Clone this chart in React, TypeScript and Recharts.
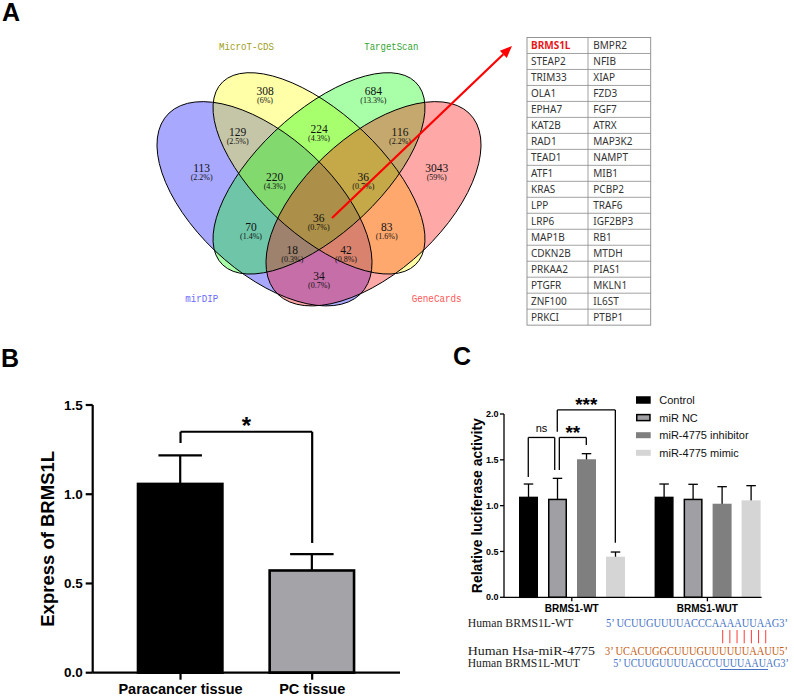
import React from "react"
import { BarChart, Bar, XAxis, YAxis, ReferenceLine, Legend } from "recharts"

// ---- A: four target-prediction sources and their overlaps
const vennSets = ["mirDIP", "MicroT-CDS", "TargetScan", "GeneCards"]
const vennSetColors = ["#6a6aff", "#a0a020", "#33a533", "#ff5757"]
const vennCounts = [308, 684, 129, 224, 116, 113, 220, 36, 3043, 70, 36, 83, 18, 42, 34]
const vennShares = ["6%", "13.3%", "2.5%", "4.3%", "2.2%", "2.2%", "4.3%", "0.7%", "59%", "1.4%", "0.7%", "1.6%", "0.3%", "0.8%", "0.7%"]

// the 36 genes shared by all four sources
const sharedGenesLeft = ["BRMS1L", "STEAP2", "TRIM33", "OLA1", "EPHA7", "KAT2B", "RAD1", "TEAD1", "ATF1", "KRAS", "LPP", "LRP6", "MAP1B", "CDKN2B", "PRKAA2", "PTGFR", "ZNF100", "PRKCI"]
const sharedGenesRight = ["BMPR2", "NFIB", "XIAP", "FZD3", "FGF7", "ATRX", "MAP3K2", "NAMPT", "MIB1", "PCBP2", "TRAF6", "IGF2BP3", "RB1", "MTDH", "PIAS1", "MKLN1", "IL6ST", "PTBP1"]

// ---- B: BRMS1L expression
const tissues = ["Paracancer tissue", "PC tissue"]
const tissueMean = [1.065, 0.58]
const tissueSd = [0.153, 0.084]
const tissueFill = ["#000000", "#a4a4a8"]

// ---- C: dual-luciferase reporter
const reporters = ["BRMS1-WT", "BRMS1-WUT"]
const treatments = ["Control", "miR NC", "miR-4775 inhibitor", "miR-4775 mimic"]
const controlMean = [1.098, 1.098]
const controlSd = [0.138, 0.138]
const ncMean = [1.076, 1.076]
const ncSd = [0.222, 0.157]
const inhibitorMean = [1.506, 1.021]
const inhibitorSd = [0.061, 0.186]
const mimicMean = [0.443, 1.058]
const mimicSd = [0.051, 0.16]
const treatmentFill = ["#000000", "#a0a0a4", "#7f7f7f", "#d5d5d5"]
const treatmentStroke = ["#000", "#000", "none", "none"]

// binding site sequences
const seqNames = ["Human BRMS1L-WT", "Human Hsa-miR-4775", "Human BRMS1L-MUT"]
const seqs = ["5’ UCUUGUUUUACCCAAAAUUAAG3’", "3’ UCACUGGCUUUGUUUUUUAAUU5’", "5’ UCUUGUUUUACCCUUUUAAUAG3’"]
const seqColors = ["#4472c4", "#c55a11", "#4472c4"]
const seedPairs = 7

const exprData = tissues.map((name, i) => ({ name, mean: tissueMean[i], sd: tissueSd[i] }))
const lucData = reporters.map((name, i) => ({
  name,
  control: controlMean[i], controlSd: controlSd[i],
  nc: ncMean[i], ncSd: ncSd[i],
  inhibitor: inhibitorMean[i], inhibitorSd: inhibitorSd[i],
  mimic: mimicMean[i], mimicSd: mimicSd[i],
}))
const lucKeys = ["control", "nc", "inhibitor", "mimic"]

// ellipse geometry, drawn in a frame squashed to 0.95 vertically
const vennShapes = [
  { cx: 264.5, cy: 214.5, rx: 135, ry: 70, rot: 45, fill: "#0000ff" },
  { cx: 319, cy: 182.5, rx: 136.2, ry: 62.6, rot: 45, fill: "#ffff00" },
  { cx: 319, cy: 182.5, rx: 136.2, ry: 62.6, rot: -45, fill: "#00ff00" },
  { cx: 373.5, cy: 214.5, rx: 135, ry: 70, rot: -45, fill: "#ff0000" },
]
const vennSetPos = [
  { x: 201.7, y: 302, w: 33 },
  { x: 246.5, y: 49.5, w: 55 },
  { x: 391.3, y: 49.5, w: 54 },
  { x: 436.7, y: 302, w: 50 },
]
const vennCountPos = [
  [265, 91], [373.3, 91], [237.7, 132], [319, 129], [400, 132], [201.7, 168], [274.7, 177.3],
  [363.3, 177.3], [436.7, 168], [251, 227], [318.7, 218], [386.7, 227], [292.3, 250], [346, 250], [319, 276],
]

// upper-only error bar drawn behind the bar, length taken from the bar's own scale
const barWithSd = (key: string, sdKey: string, fills: string[] | string, stroke: string, sw: number, whisker: number) =>
  (p: any) => {
    const { x, y, width, height, payload, index } = p
    const v = payload[key]
    const top = y - (payload[sdKey] * height) / v
    const cx = x + width / 2
    const fill = Array.isArray(fills) ? fills[index] : fills
    const inset = stroke === "none" ? 0 : sw / 2
    return (
      <g>
        <line x1={cx} x2={cx} y1={y + 3} y2={top} stroke="#000" strokeWidth={whisker} />
        <line x1={cx - width / 4} x2={cx + width / 4} y1={top} y2={top} stroke="#000" strokeWidth={whisker} />
        <rect x={x + inset} y={y + inset} width={width - 2 * inset} height={Math.max(0, height - inset)} fill={fill} stroke={stroke} strokeWidth={sw} />
      </g>
    )
  }

const axisTitle = (text: string, cx: number, size: number) => (props: any) => {
  const vb = props.viewBox
  const tx = vb.x + cx
  const ty = vb.y + vb.height / 2
  return (
    <text x={tx} y={ty} transform={`rotate(-90 ${tx} ${ty})`} textAnchor="middle" dominantBaseline="central"
      fontSize={size} fontWeight={700} fill="#000">{text}</text>
  )
}

const markLabel = (mark: string, size: number, dy: number, weight: number) => (props: any) => {
  const vb = props.viewBox
  return (
    <text x={vb.x + vb.width / 2} y={vb.y + dy} textAnchor="middle" fontSize={size} fontWeight={weight} fill="#000">{mark}</text>
  )
}

function ExpressionChart() {
  const line = { stroke: "#000", strokeWidth: 2.2, ifOverflow: "visible" as const }
  return (
    <BarChart width={420} height={317} data={exprData} margin={{ top: 25, right: 20, bottom: 0, left: 0 }}>
      <XAxis dataKey="name" height={24.3} padding={{ left: 22, right: 22 }} interval={0}
        axisLine={{ stroke: "#000", strokeWidth: 2.2 }} tickLine={{ stroke: "#000", strokeWidth: 2.2 }}
        tickSize={7} tickMargin={4} tick={{ fill: "#000", fontSize: 14.5, fontWeight: 700 }} />
      <YAxis width={92.7} domain={[0, 1.5]} ticks={[0, 0.5, 1, 1.5]} tickFormatter={(v: number) => v.toFixed(1)}
        axisLine={{ stroke: "#000", strokeWidth: 2.2 }} tickLine={{ stroke: "#000", strokeWidth: 2.2 }}
        tickSize={7} tickMargin={3} tick={{ fill: "#000", fontSize: 13.5, fontWeight: 700 }}
        label={{ content: axisTitle("Express of BRMS1L", 48, 18.5) }} />
      <Bar dataKey="mean" barSize={87} isAnimationActive={false}
        shape={barWithSd("mean", "sd", tissueFill, "#000", 2.6, 2.2)} />
      <ReferenceLine segment={[{ x: tissues[0], y: 1.287 }, { x: tissues[0], y: 1.35 }]} {...line} />
      <ReferenceLine segment={[{ x: tissues[0], y: 1.35 }, { x: tissues[1], y: 1.35 }]} {...line}
        label={{ content: markLabel("*", 24, 2, 700) }} />
      <ReferenceLine segment={[{ x: tissues[1], y: 1.35 }, { x: tissues[1], y: 0.727 }]} {...line} />
    </BarChart>
  )
}

// significance brackets; x runs 0..1 across the plot on the hidden "pos" axis
const lucBrackets = [
  { x1: 0.0895, x2: 0.187, y: 1.744, y1: 1.313, y2: 1.389, mark: "ns", size: 11, dy: -5.8, weight: 400 },
  { x1: 0.204, x2: 0.3035, y: 1.744, y1: 1.389, y2: 1.662, mark: "**", size: 19, dy: 1.7, weight: 700 },
  { x1: 0.1965, x2: 0.4105, y: 2.044, y1: 1.807, y2: 0.596, mark: "***", size: 19, dy: 0.9, weight: 700 },
]

const lucLegend = () => (
  <svg width={160} height={72}>
    {treatments.map((t, i) => {
      const cy = 9 + i * 17.6
      const s = treatmentStroke[i] !== "none"
      return (
        <g key={t}>
          <rect x={s ? 6.75 : 6} y={cy - 3} width={s ? 13.2 : 14.7} height={6} fill={treatmentFill[i]}
            stroke={treatmentStroke[i]} strokeWidth={1.5} />
          <text x={29.3} y={cy + 4} fontSize={11} fill="#111">{t}</text>
        </g>
      )
    })}
  </svg>
)

function LuciferaseChart() {
  const line = { stroke: "#000", strokeWidth: 1.3, ifOverflow: "visible" as const, xAxisId: "pos" }
  return (
    <BarChart width={394} height={260} data={lucData} margin={{ top: 54, right: 18.8, bottom: 0, left: 0 }} barGap={10}>
      <XAxis dataKey="name" height={22.7} interval={0} axisLine={false}
        tickLine={{ stroke: "#000", strokeWidth: 1.3 }} tickSize={4} tickMargin={4}
        tick={{ fill: "#000", fontSize: 10, fontWeight: 700 }} />
      <XAxis xAxisId="pos" type="number" domain={[0, 1]} allowDataOverflow hide />
      <YAxis width={104} domain={[0, 2]} ticks={[0, 0.5, 1, 1.5, 2]} tickFormatter={(v: number) => v.toFixed(1)}
        axisLine={{ stroke: "#000", strokeWidth: 1.3 }} tickLine={{ stroke: "#000", strokeWidth: 1.3 }}
        tickSize={4} tickMargin={1.5} tick={{ fill: "#000", fontSize: 9, fontWeight: 700 }}
        label={{ content: axisTitle("Relative luciferase activity", 77, 14) }} />
      {lucKeys.map((k, i) => (
        <Bar key={k} dataKey={k} name={treatments[i]} barSize={19} fill={treatmentFill[i]} isAnimationActive={false}
          shape={barWithSd(k, k + "Sd", treatmentFill[i], treatmentStroke[i], 1.5, 1.3)} />
      ))}
      <ReferenceLine segment={[{ x: 0, y: 0 }, { x: 0.95, y: 0 }]} {...line} />
      {lucBrackets.map((b) => (
        <React.Fragment key={b.mark}>
          <ReferenceLine segment={[{ x: b.x1, y: b.y1 }, { x: b.x1, y: b.y }]} {...line} />
          <ReferenceLine segment={[{ x: b.x1, y: b.y }, { x: b.x2, y: b.y }]} {...line}
            label={{ content: markLabel(b.mark, b.size, b.dy, b.weight) }} />
          <ReferenceLine segment={[{ x: b.x2, y: b.y }, { x: b.x2, y: b.y2 }]} {...line} />
        </React.Fragment>
      ))}
      <Legend layout="vertical" align="center" verticalAlign="middle" content={lucLegend}
        wrapperStyle={{ left: 230, top: 31, width: 160, height: 72 }} />
    </BarChart>
  )
}

function VennPanel() {
  const ax1 = 332, ay1 = 218, ax2 = 512, ay2 = 46
  const ang = Math.atan2(ay2 - ay1, ax2 - ax1)
  const bx = ax2 - 12 * Math.cos(ang)
  const by = ay2 - 12 * Math.sin(ang)
  const nx = -Math.sin(ang) * 5
  const ny = Math.cos(ang) * 5
  const tTop = 37.5
  const rowH = 15.98
  return (
    <g>
      <g transform="scale(1 0.95)">
        {vennShapes.map((e, i) => (
          <ellipse key={"f" + i} cx={e.cx} cy={e.cy} rx={e.rx} ry={e.ry} transform={`rotate(${e.rot} ${e.cx} ${e.cy})`}
            fill={e.fill} fillOpacity={0.34} />
        ))}
        {vennShapes.map((e, i) => (
          <ellipse key={"s" + i} cx={e.cx} cy={e.cy} rx={e.rx} ry={e.ry} transform={`rotate(${e.rot} ${e.cx} ${e.cy})`}
            fill="none" stroke="#000" strokeWidth={1} vectorEffect="non-scaling-stroke" />
        ))}
      </g>
      {vennSets.map((s, i) => (
        <text key={s} x={vennSetPos[i].x} y={vennSetPos[i].y} textAnchor="middle" fontFamily="'Liberation Mono', monospace"
          fontSize={11} fill={vennSetColors[i]} textLength={vennSetPos[i].w} lengthAdjust="spacingAndGlyphs">{s}</text>
      ))}
      {vennCounts.map((c, i) => (
        <g key={i} fontFamily="'Liberation Serif', serif" fill="#111" textAnchor="middle">
          <text x={vennCountPos[i][0]} y={vennCountPos[i][1] + 4} fontSize={11.5}>{c}</text>
          <text x={vennCountPos[i][0]} y={vennCountPos[i][1] + 11.5} fontSize={8}>({vennShares[i]})</text>
        </g>
      ))}
      <line x1={ax1} y1={ay1} x2={bx} y2={by} stroke="#ff0000" strokeWidth={2.2} />
      <polygon points={`${ax2},${ay2} ${bx + nx},${by + ny} ${bx - nx},${by - ny}`} fill="#ff0000" />

      <g fontFamily="'Noto Sans', sans-serif" fontSize={10}>
        {sharedGenesLeft.map((g, i) => (
          <g key={g}>
            <text x={531} y={tTop + rowH * (i + 0.5) + 3.6} fill={i === 0 ? "#e8171a" : "#333"} fontWeight={i === 0 ? 700 : 400}>{g}</text>
            <text x={593.3} y={tTop + rowH * (i + 0.5) + 3.6} fill="#333">{sharedGenesRight[i]}</text>
            {i > 0 && <line x1={527} x2={650.7} y1={tTop + rowH * i} y2={tTop + rowH * i} stroke="#8a8a8a" strokeWidth={0.8} />}
          </g>
        ))}
        <rect x={527} y={tTop} width={123.7} height={rowH * sharedGenesLeft.length} fill="none" stroke="#8a8a8a" strokeWidth={0.9} />
        <line x1={588} x2={588} y1={tTop} y2={tTop + rowH * sharedGenesLeft.length} stroke="#8a8a8a" strokeWidth={0.8} />
      </g>
    </g>
  )
}

function SequencePanel() {
  const nameLen = [105.6, 127.3, 112.3]
  const seqX = [606, 605, 613.3]
  const seqLen = [182, 183, 175.5]
  const base = [627, 655, 667]
  return (
    <g fontFamily="'Liberation Serif', serif" fontSize={12}>
      {seqNames.map((n, i) => (
        <g key={n}>
          <text x={467.7} y={base[i]} fill="#222" textLength={nameLen[i]} lengthAdjust="spacingAndGlyphs">{n}</text>
          <text x={seqX[i]} y={base[i]} fill={seqColors[i]} textLength={seqLen[i]} lengthAdjust="spacingAndGlyphs">{seqs[i]}</text>
        </g>
      ))}
      {Array.from({ length: seedPairs }, (_, i) => (
        <line key={i} x1={722.7 + i * 7.17} x2={722.7 + i * 7.17} y1={630} y2={643.3} stroke="#ff3b3b" strokeWidth={1} />
      ))}
      <line x1={720} x2={768} y1={669.5} y2={669.5} stroke="#4472c4" strokeWidth={1} />
    </g>
  )
}

export default function App() {
  return (
    <div style={{ position: "absolute", left: 0, top: 0, width: 794, height: 697, background: "#fff", overflow: "hidden",
      fontFamily: "'Liberation Sans', Arial, sans-serif" }}>
      <div style={{ position: "absolute", left: 0, top: 380 }}>
        <ExpressionChart />
      </div>
      <div style={{ position: "absolute", left: 400, top: 360 }}>
        <LuciferaseChart />
      </div>
      <svg width={794} height={697} style={{ position: "absolute", left: 0, top: 0, pointerEvents: "none" }}>
        <g fontFamily="'Liberation Sans', Arial, sans-serif" fontWeight={700} fontSize={25} fill="#000">
          <text x={2} y={21}>A</text>
          <text x={1} y={367}>B</text>
          <text x={453} y={365}>C</text>
        </g>
        <VennPanel />
        <SequencePanel />
      </svg>
    </div>
  )
}
